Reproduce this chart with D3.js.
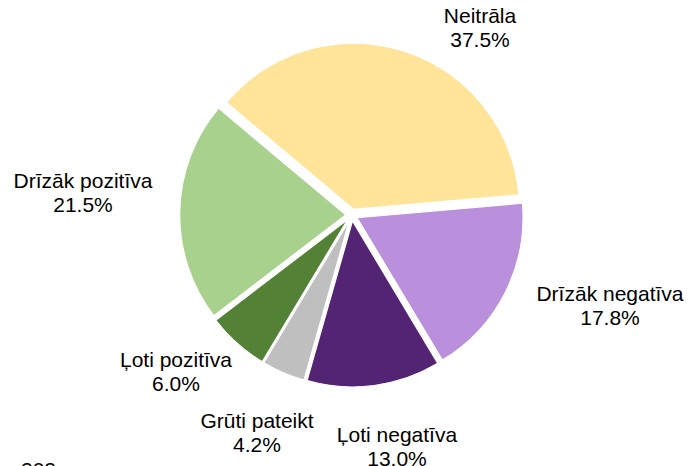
<!DOCTYPE html>
<html>
<head>
<meta charset="utf-8">
<script src="https://cdn.jsdelivr.net/npm/d3@7/dist/d3.min.js"></script>
<style>
  html, body { margin: 0; padding: 0; background: #fff; }
  svg { display: block; }
  text { font-family: "Liberation Sans", Arial, sans-serif; }
</style>
</head>
<body>
<svg id="chart" width="687" height="466"></svg>
<script>
// ---- data ----
const categories = ["Neitrāla", "Drīzāk negatīva", "Ļoti negatīva", "Grūti pateikt", "Ļoti pozitīva", "Drīzāk pozitīva"];
const values = [37.5, 17.8, 13.0, 4.2, 6.0, 21.5];
const valueLabels = ["37.5%", "17.8%", "13.0%", "4.2%", "6.0%", "21.5%"];
const colors = ["#FFE499", "#BA8FDC", "#542474", "#BFBFBF", "#538135", "#A9D18E"];
const footnote = "202";

// ---- layout ----
const W = 687, H = 466;
const cx = 351.7, cy = 215, R = 166, explode = 6;
const startDeg = -50;
// label anchor points (text centre, first baseline)
const labelPos = [[480, 23], [610, 301], [397, 442], [257, 428], [176, 367], [83, 188]];
const lineGap = 24;

const svg = d3.select("#chart");
const pie = d3.pie().sort(null).value(d => d)
  .startAngle(startDeg * Math.PI / 180)
  .endAngle(startDeg * Math.PI / 180 + 2 * Math.PI);
const arcs = pie(values);
const arc = d3.arc().innerRadius(0).outerRadius(R);

const g = svg.append("g").attr("transform", `translate(${cx},${cy})`);
g.selectAll("path").data(arcs).join("path")
  .attr("d", arc)
  .attr("fill", (d, i) => colors[i])
  .attr("stroke", "#fff")
  .attr("stroke-width", 1.2)
  .attr("stroke-linejoin", "round")
  .attr("transform", d => {
    const a = (d.startAngle + d.endAngle) / 2;
    return `translate(${explode * Math.sin(a)},${-explode * Math.cos(a)})`;
  });

const lab = svg.append("g").attr("font-size", 21).attr("fill", "#000").attr("text-anchor", "middle");
categories.forEach((c, i) => {
  const t = lab.append("text").attr("x", labelPos[i][0]).attr("y", labelPos[i][1]);
  t.append("tspan").attr("x", labelPos[i][0]).text(c);
  t.append("tspan").attr("x", labelPos[i][0]).attr("dy", lineGap).text(valueLabels[i]);
});

svg.append("text").attr("x", 21).attr("y", 477).attr("font-size", 21).attr("fill", "#000").text(footnote);
</script>
</body>
</html>
